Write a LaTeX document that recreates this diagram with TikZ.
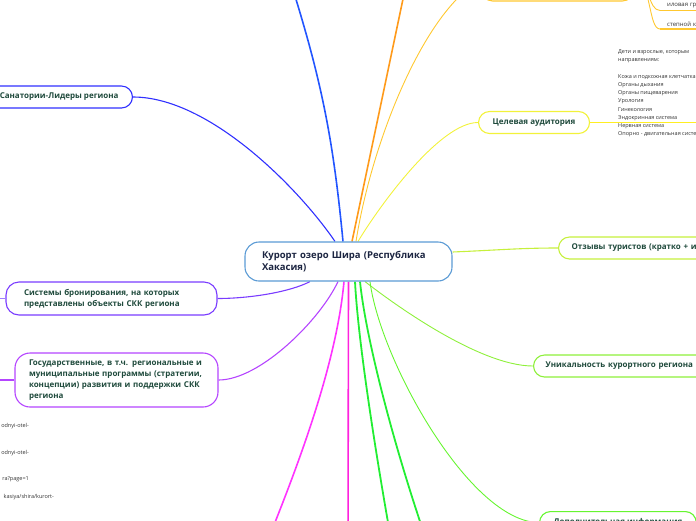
\documentclass[tikz,border=0pt]{standalone}
\usepackage{fontspec}
\setmainfont{Open Sans}
\usepackage{xcolor}
\usetikzlibrary{positioning, calc, backgrounds}

\definecolor{hubblue}{HTML}{5B9BD5}
\definecolor{hubtext}{HTML}{1C2541}
\definecolor{labelgreen}{HTML}{1F4A3C}
\definecolor{leafgray}{HTML}{333333}
\definecolor{topblue}{HTML}{2255FF}
\definecolor{sanblue}{HTML}{3030FF}
\definecolor{orangeline}{HTML}{FF9A1A}
\definecolor{topamber}{HTML}{FFC830}
\definecolor{audyellow}{HTML}{F2F23A}
\definecolor{audline}{HTML}{FFEE22}
\definecolor{revgreen}{HTML}{C6F03C}
\definecolor{uniqgreen}{HTML}{8EF03A}
\definecolor{dopgreen}{HTML}{66F530}
\definecolor{brightgreen}{HTML}{22EE33}
\definecolor{magline}{HTML}{FF22DD}
\definecolor{pinkline}{HTML}{FF33FF}
\definecolor{govviolet}{HTML}{B545FF}
\definecolor{syspurple}{HTML}{7A3CFF}
\definecolor{stubpurple}{HTML}{A080FF}

\begin{document}
\begin{tikzpicture}[x=1pt, y=1pt,
  branch/.style={draw, line width=1.1pt, rounded corners=11pt, fill=white,
    font=\fontsize{8}{11}\selectfont\bfseries, text=labelgreen,
    inner xsep=14pt, minimum height=22pt},
  leaf/.style={font=\fontsize{5.5}{8.2}\selectfont, text=leafgray, inner sep=0pt},
  link/.style={line width=1.1pt}]
\useasboundingbox (0,0) rectangle (696,-520);
\clip (0,0) rectangle (696,-520);

% central topic
\node[draw=hubblue, line width=1.1pt, rounded corners=14pt, fill=white,
  minimum width=207pt, minimum height=39pt, text width=173pt, inner xsep=17pt,
  align=left, font=\fontsize{9.5}{12}\selectfont\bfseries, text=hubtext]
  (hub) at (348.5,-261.5) {Курорт озеро Шира (Республика\\Хакасия)};

% left branches
\node[branch, draw=sanblue, anchor=east] (sanat) at (133,-97) {Санатории-Лидеры региона};
\node[branch, draw=syspurple, rounded corners=13pt, minimum width=211pt, minimum height=33pt,
  text width=175pt, inner xsep=18pt, align=left] (sys) at (111.5,-298.5)
  {Системы бронирования, на которых\\представлены объекты СКК региона};
\node[branch, draw=govviolet, rounded corners=15pt, minimum width=203pt, minimum height=54pt,
  text width=175pt, inner xsep=14pt, align=left] (gov) at (116.5,-380)
  {Государственные, в т.ч. региональные и\\муниципальные программы (стратегии,\\концепции) развития и поддержки СКК\\региона};

% links, cut at the left edge
\node[leaf, anchor=east] (urlA) at (29,-426) {odnyi-otel-};
\node[leaf, anchor=east] (urlB) at (29,-453) {odnyi-otel-};
\node[leaf, anchor=east] (urlC) at (29,-479) {ra?page=1};
\node[leaf, anchor=east] (urlD) at (54,-497) {kasiya/shira/kurort-};

% right branches
\node[branch, draw=topamber, anchor=south west, minimum width=152pt, minimum height=42pt]
  (topbox) at (481,-1.5) {};
\node[leaf, font=\fontsize{6}{7}\selectfont, anchor=south west, inner xsep=7pt, inner ysep=2pt,
  text width=40pt, align=left] (silt) at (660,-10.5) {иловая гр};
\node[leaf, font=\fontsize{6}{7}\selectfont, anchor=south west, inner xsep=7pt, inner ysep=2pt,
  text width=40pt, align=left] (steppe) at (660,-29) {степной к};
\draw[topamber, line width=1.4pt] (silt.south west) -- (silt.south east);
\draw[topamber, line width=1.4pt] (steppe.south west) -- (steppe.south east);

\node[branch, draw=audyellow, anchor=west, minimum width=111pt] (aud) at (478,-122.5) {Целевая аудитория};
\node[leaf, anchor=north west, align=left] (audinfo) at (618,-49.5)
  {Дети и взрослые, которым\\направлениям:\\[8.2pt]Кожа и подкожная клетчатка\\Органы дыхания\\Органы пищеварения\\Урология\\Гинекология\\Эндокринная система\\Нервная система\\Опорно - двигательная система};

\node[branch, draw=revgreen, anchor=west, inner xsep=13pt, text width=150pt, align=left]
  (rev) at (558,-248) {Отзывы туристов (кратко + и};
\node[branch, draw=uniqgreen, anchor=west, inner xsep=12pt, text width=160pt, align=left]
  (uniq) at (533,-366) {Уникальность курортного региона};
\node[branch, draw=dopgreen, anchor=north west, minimum width=156pt]
  (dop) at (539,-511) {Дополнительная информация};

% free ends off the page
\coordinate (blueend) at (290,20);
\coordinate (orangeend) at (407,20);
\coordinate (audend) at (710,-122.5);
\coordinate (greenendA) at (392,-545);
\coordinate (greenendB) at (428,-545);
\coordinate (magendA) at (348,-545);
\coordinate (magendB) at (266,-545);
\coordinate (sysstub) at (-10,-298.5);
\coordinate (govstub) at (-10,-380);

\begin{scope}[on background layer]
% top side
\draw[link, line width=1.6pt, topblue] ([xshift=-5.5pt]hub.north) to[bend right=6] (blueend);
\draw[link, sanblue] ([xshift=-13.5pt]hub.north) .. controls (300,-190) and (210,-97) .. (sanat.east);
\draw[link, line width=1.6pt, orangeline] ([xshift=3.5pt]hub.north) -- (orangeend);
\draw[link, line width=0.9pt, topamber] ([xshift=7.5pt]hub.north) .. controls (372,-140) and (425,-10) .. (topbox.west);
\draw[link, line width=0.9pt, topamber] (topbox.east) .. controls (650,19.5) and (648,-10.5) .. (silt.south west);
\draw[link, line width=0.9pt, topamber] (topbox.east) .. controls (652,19.5) and (648,-29) .. (steppe.south west);
\draw[link, line width=0.9pt, audyellow] ([xshift=9.5pt]hub.north) .. controls (380,-205) and (440,-122.5) .. (aud.west);
\draw[link, line width=1.4pt, audline] (aud.east) -- (audend);
% right side
\draw[link, revgreen] ([yshift=9.5pt]hub.east) .. controls (500,-250) and (520,-248) .. (rev.west);
\draw[link, line width=0.9pt, uniqgreen] ([xshift=16.5pt]hub.south) .. controls (395,-305) and (480,-366) .. (uniq.west);
\draw[link, line width=0.9pt, dopgreen] ([xshift=21.5pt]hub.south) .. controls (380,-360) and (470,-522) .. (dop.west);
% bottom side
\draw[link, line width=1.8pt, brightgreen] ([xshift=6.5pt]hub.south) .. controls (358,-340) and (375,-450) .. (greenendA);
\draw[link, line width=1.8pt, brightgreen] ([xshift=11.5pt]hub.south) .. controls (366,-340) and (395,-450) .. (greenendB);
\draw[link, line width=1.6pt, magline] (hub.south) -- (magendA);
\draw[link, line width=1.6pt, pinkline] ([xshift=-4.5pt]hub.south) .. controls (336,-370) and (292,-480) .. (magendB);
% left side
\draw[link, govviolet] ([xshift=-10.5pt]hub.south) .. controls (320,-320) and (260,-380) .. (gov.east);
\draw[link, syspurple] ([xshift=-38.5pt]hub.south) .. controls (290,-292) and (250,-298.5) .. (sys.east);
\draw[link, stubpurple] (sys.west) -- (sysstub);
\draw[link, govviolet] (gov.west) -- (govstub);
\end{scope}
\end{tikzpicture}
\end{document}
